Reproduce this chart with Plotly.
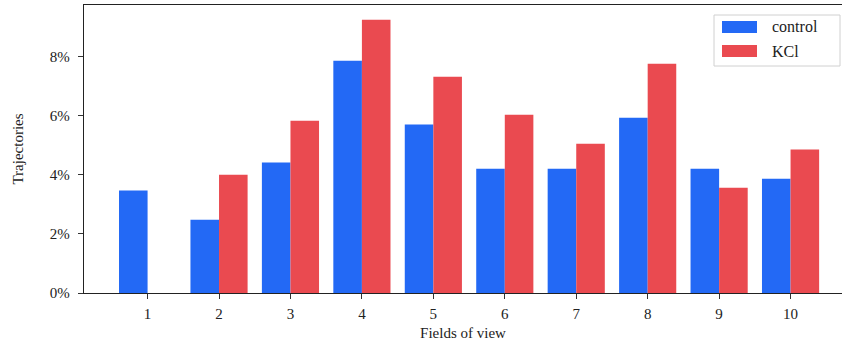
import plotly.graph_objects as go

fields = [1, 2, 3, 4, 5, 6, 7, 8, 9, 10]
control = [3.47, 2.48, 4.42, 7.87, 5.71, 4.21, 4.21, 5.94, 4.21, 3.87]
kcl = [0.0, 4.01, 5.84, 9.26, 7.33, 6.04, 5.06, 7.77, 3.57, 4.86]
ytick_vals = [0, 2, 4, 6, 8]
ytick_text = ["0%", "2%", "4%", "6%", "8%"]

BLUE = "#2369F5"
RED = "#EA4A50"
FONT = "Liberation Serif"

W, H = 842, 344
ml, mr, mt, mb = 84, 0, 5, 51

fig = go.Figure()
fig.add_trace(go.Bar(x=fields, y=control, name="control", marker=dict(color=BLUE, line=dict(width=0)), showlegend=False))
fig.add_trace(go.Bar(x=fields, y=kcl, name="KCl", marker=dict(color=RED, line=dict(width=0)), showlegend=False))

fig.update_layout(
    width=W, height=H,
    margin=dict(l=ml, r=mr, t=mt, b=mb, autoexpand=False),
    barmode="group", bargap=0.2, bargroupgap=0,
    plot_bgcolor="white", paper_bgcolor="white",
    font=dict(family=FONT, size=15, color="#222"),
    xaxis=dict(range=[0.11, 10.72], tickvals=fields, ticks="outside", ticklen=5, tickwidth=1.3,
               tickcolor="#333", showline=True, linecolor="#222", linewidth=1.3, mirror=True,
               showgrid=False, zeroline=False, automargin=False, ticklabelstandoff=2,
               title=dict(text="Fields of view", standoff=6, font=dict(size=15))),
    yaxis=dict(range=[0, 9.76], tickvals=ytick_vals, ticktext=ytick_text, ticks="outside", ticklen=5,
               tickwidth=1.3, tickcolor="#333", showline=True, linecolor="#222", linewidth=1.3,
               showgrid=False, zeroline=False, automargin=False, ticklabelstandoff=5,
               title=dict(text="Trajectories", standoff=22, font=dict(size=15))),
)

# manual legend (matplotlib style)
pw = W - ml - mr
ph = H - mt - mb
def px(x):
    return (x - ml) / pw
def py(y):
    return 1 - (y - mt) / ph

fig.add_shape(type="rect", xref="paper", yref="paper", x0=px(714), x1=px(840), y0=py(66), y1=py(15),
              line=dict(color="#d0d0d0", width=1), fillcolor="rgba(255,255,255,0.85)")
for i, (name, col) in enumerate([("control", BLUE), ("KCl", RED)]):
    yc = 27 + i * 24
    fig.add_shape(type="rect", xref="paper", yref="paper", x0=px(722), x1=px(757),
                  y0=py(yc + 6), y1=py(yc - 6), line=dict(width=0), fillcolor=col)
    fig.add_annotation(xref="paper", yref="paper", x=px(770), y=py(yc), text=name, showarrow=False,
                       xanchor="left", yanchor="middle", font=dict(size=16, family=FONT, color="#222"))

fig.write_html("out.html", config={"displayModeBar": False},
               post_script="document.body.style.margin='0';document.body.style.overflow='hidden';")
